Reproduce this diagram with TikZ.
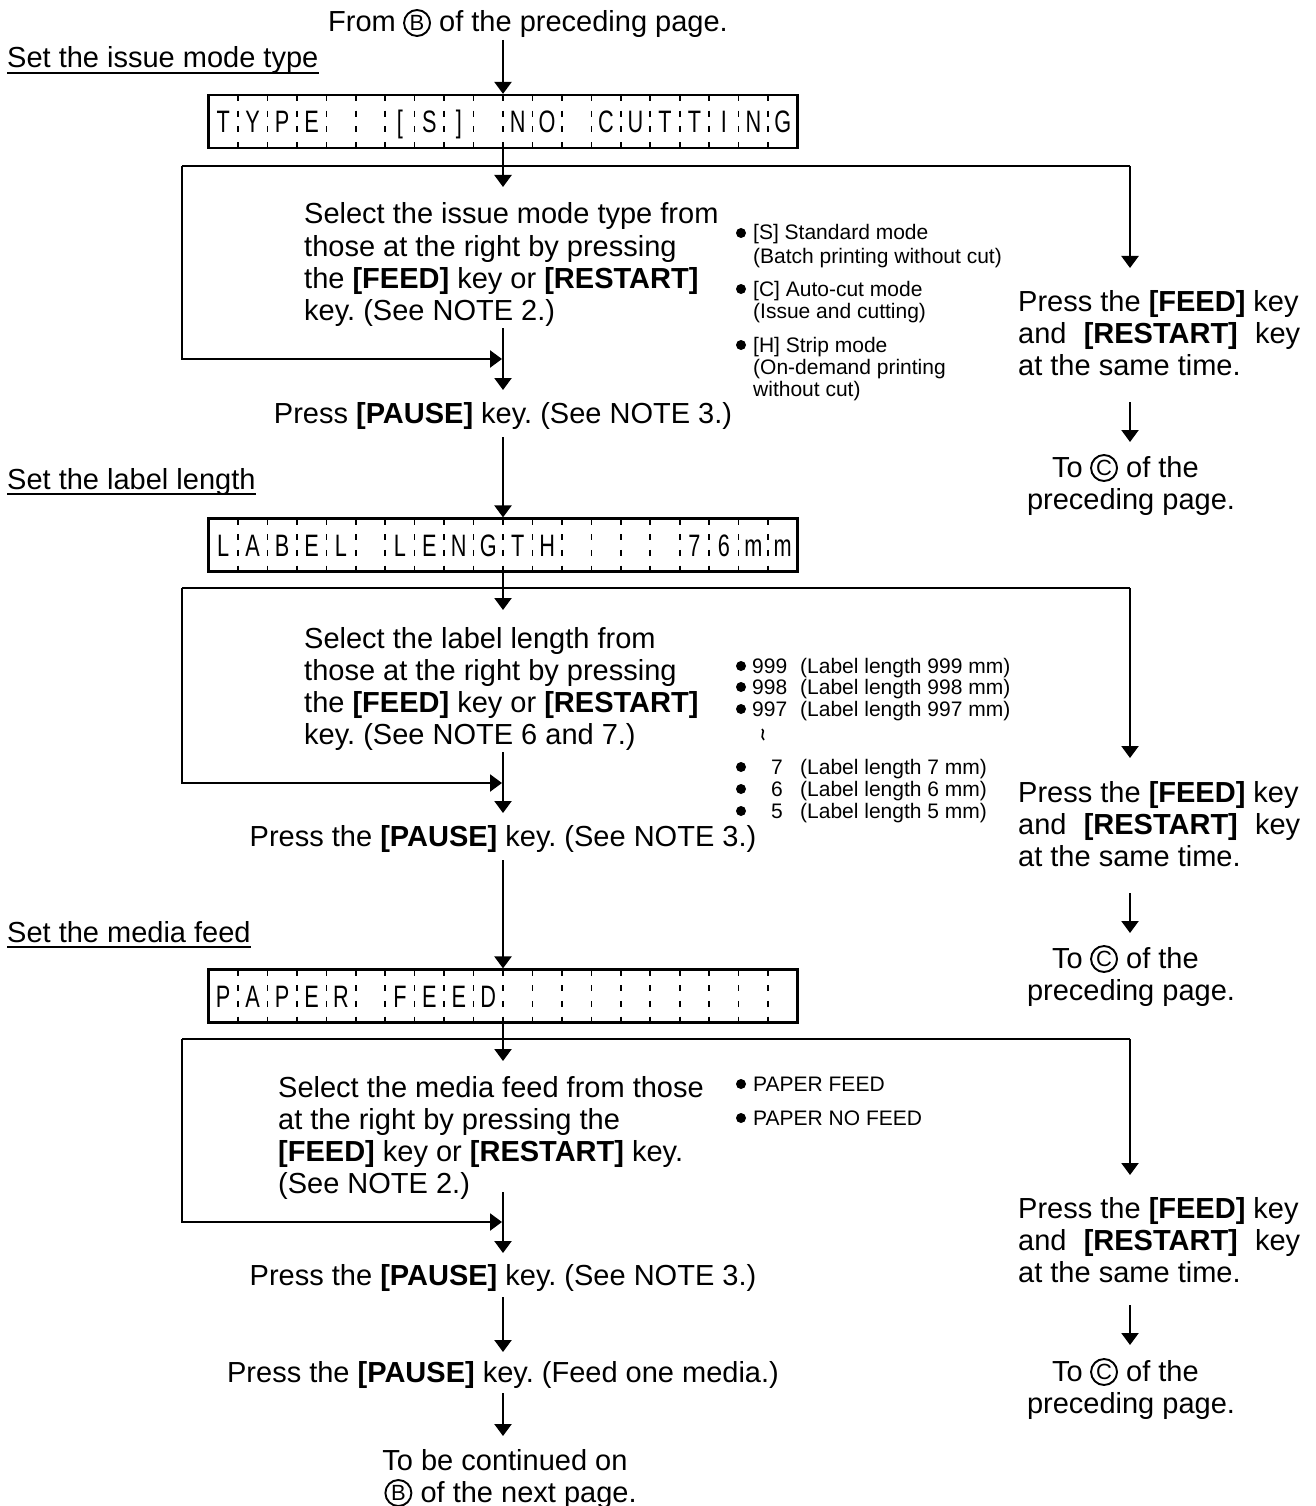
\documentclass[tikz,border=0pt]{standalone}
\usepackage{fontspec}
\setmainfont{Liberation Sans}
\newfontfamily\lcdfont[FakeStretch=0.70]{Liberation Sans}
\usetikzlibrary{arrows.meta}
\frenchspacing
% text with a circled letter: name, x, y(baseline), before, letter, after
\newcommand{\circtext}[6]{%
  \node[txt] (#1a) at (#2,#3) {#4};
  \node[circ] (#1b) at ([xshift=21pt,yshift=9pt]#1a.base east) {#5};
  \path (#1b.east |- #1a.base) ++(8,0) coordinate (#1p);
  \node[txt] (#1c) at (#1p) {#6};
}
\newcommand{\lcdrow}[3]{%
  \node[lcdbox] (#1) at (503,#2) {};
  \foreach \k in {1,...,19}
    \draw[lcdsep] ({208.5+\k*29.45},{#2-26.5}) -- ({208.5+\k*29.45},{#2+26.5});
  \foreach \c [count=\i from 0] in {#3}
    \node[lcdchar] (#1c\i) at ({208.5+(\i+0.5)*29.45},{#2+11}) {\c};
}
\begin{document}
\begin{tikzpicture}[x=1pt,y=-1pt,
  ln/.style={line width=2.3pt},
  arr/.style={line width=2.3pt,-{Triangle[width=17pt,length=12pt]}},
  txt/.style={inner sep=0pt,anchor=base west,font=\fontsize{29}{32}\selectfont},
  ctxt/.style={inner sep=0pt,anchor=base,font=\fontsize{29}{32}\selectfont},
  small/.style={inner sep=0pt,anchor=base west,font=\fontsize{21}{22}\selectfont},
  circ/.style={circle,draw,line width=1.9pt,inner sep=0pt,minimum size=26pt,font=\fontsize{22}{22}\selectfont},
  lcdbox/.style={draw,line width=2.2pt,minimum width=589pt,minimum height=53pt,inner sep=0pt},
  lcdsep/.style={line width=1.6pt,dash pattern=on 6pt off 9.67pt},
  lcdchar/.style={inner sep=0pt,anchor=base,font=\lcdfont\fontsize{31}{32}\selectfont},
  dot/.style={circle,fill,inner sep=0pt,minimum size=10pt},
  uline/.style={line width=2pt}]
\useasboundingbox (0,0) rectangle (1315,1506);

% ---------------- top
\circtext{from}{328}{32}{From}{B}{of the preceding page.}
\node[txt] (h1) at (7,68) {Set the issue mode type};
\draw[uline] ([yshift=-5pt]h1.base west) -- ([yshift=-5pt]h1.base east);
\lcdrow{box1}{121.5}{T,Y,P,E,{},{},{[},S,{]},{},N,O,{},C,U,T,T,I,N,G}
\coordinate (F0) at (503,40);
\draw[arr] (F0) -- (box1.north);

% ---------------- section 1
\coordinate (L1) at (182,166);
\coordinate (R1) at (1130,166);
\coordinate (T1) at (503,187);
\coordinate (B1) at (182,359);
\coordinate (M1) at (502,359);
\coordinate (V1a) at (503,328);
\coordinate (V1b) at (503,390);
\coordinate (RT1) at (1130,268);
\draw[ln] (L1) -- (R1);
\draw[arr] (box1.south) -- (T1);
\draw[arr] (R1) -- (RT1);
\draw[arr] (L1) -- (B1) -- (M1);
\draw[arr] (V1a) -- (V1b);

\node[txt] (s1a) at (304,224) {Select the issue mode type from};
\node[txt] (s1b) at (304,256) {those at the right by pressing};
\node[txt] (s1c) at (304,288) {the \textbf{[FEED]} key or \textbf{[RESTART]}};
\node[txt] (s1d) at (304,320) {key. (See NOTE 2.)};

\node[dot] (d1a) at (741,233) {};
\node[small] (l1a) at (753,240) {[S] Standard mode};
\node[small] (l1b) at (753,263) {(Batch printing without cut)};
\node[dot] (d1b) at (741,289) {};
\node[small] (l1c) at (753,296) {[C] Auto-cut mode};
\node[small] (l1d) at (753,318) {(Issue and cutting)};
\node[dot] (d1c) at (741,345) {};
\node[small] (l1e) at (753,352) {[H] Strip mode};
\node[small] (l1f) at (753,374) {(On-demand printing};
\node[small] (l1g) at (753,396) {without cut)};

\node[ctxt] (p1) at (503,423) {Press \textbf{[PAUSE]} key. (See NOTE 3.)};

\node[txt] (r1a) at (1018,311) {Press the \textbf{[FEED]} key};
\node[txt] (r1b) at (1018,343) {\makebox[282pt][s]{and \textbf{[RESTART]} key}};
\node[txt] (r1c) at (1018,375) {at the same time.};
\coordinate (RA1) at (1130,402);
\coordinate (RB1) at (1130,442);
\draw[arr] (RA1) -- (RB1);
\circtext{to1}{1052}{477}{To}{C}{of the}
\node[ctxt] (to1d) at (1131,509) {preceding page.};

% ---------------- section 2
\node[txt] (h2) at (7,489) {Set the label length};
\draw[uline] ([yshift=-5pt]h2.base west) -- ([yshift=-5pt]h2.base east);
\lcdrow{box2}{545}{L,A,B,E,L,{},L,E,N,G,T,H,{},{},{},{},7,6,m,m}
\coordinate (P1s) at (503,437);
\draw[arr] (P1s) -- (box2.north);

\coordinate (L2) at (182,588);
\coordinate (R2) at (1130,588);
\coordinate (T2) at (503,610);
\coordinate (B2) at (182,783);
\coordinate (M2) at (502,783);
\coordinate (V2a) at (503,752);
\coordinate (V2b) at (503,813);
\coordinate (RT2) at (1130,758);
\draw[ln] (L2) -- (R2);
\draw[arr] (box2.south) -- (T2);
\draw[arr] (R2) -- (RT2);
\draw[arr] (L2) -- (B2) -- (M2);
\draw[arr] (V2a) -- (V2b);

\node[txt] (s2a) at (304,648) {Select the label length from};
\node[txt] (s2b) at (304,680) {those at the right by pressing};
\node[txt] (s2c) at (304,712) {the \textbf{[FEED]} key or \textbf{[RESTART]}};
\node[txt] (s2d) at (304,744) {key. (See NOTE 6 and 7.)};

\node[dot] (d2a) at (741,666) {};
\node[small] (n2a) at (752,673) {999};
\node[small] (l2a) at (800,673) {(Label length 999 mm)};
\node[dot] (d2b) at (741,687) {};
\node[small] (n2b) at (752,694) {998};
\node[small] (l2b) at (800,694) {(Label length 998 mm)};
\node[dot] (d2c) at (741,709) {};
\node[small] (n2c) at (752,716) {997};
\node[small] (l2c) at (800,716) {(Label length 997 mm)};
\draw[line width=1.6pt] (762,729) .. controls (766,731) and (759,736) .. (764,740);
\node[dot] (d2d) at (741,767) {};
\node[small] (n2d) at (771,774) {7};
\node[small] (l2d) at (800,774) {(Label length 7 mm)};
\node[dot] (d2e) at (741,789) {};
\node[small] (n2e) at (771,796) {6};
\node[small] (l2e) at (800,796) {(Label length 6 mm)};
\node[dot] (d2f) at (741,811) {};
\node[small] (n2f) at (771,818) {5};
\node[small] (l2f) at (800,818) {(Label length 5 mm)};

\node[ctxt] (p2) at (503,846) {Press the \textbf{[PAUSE]} key. (See NOTE 3.)};

\node[txt] (r2a) at (1018,802) {Press the \textbf{[FEED]} key};
\node[txt] (r2b) at (1018,834) {\makebox[282pt][s]{and \textbf{[RESTART]} key}};
\node[txt] (r2c) at (1018,866) {at the same time.};
\coordinate (RA2) at (1130,893);
\coordinate (RB2) at (1130,933);
\draw[arr] (RA2) -- (RB2);
\circtext{to2}{1052}{968}{To}{C}{of the}
\node[ctxt] (to2d) at (1131,1000) {preceding page.};

% ---------------- section 3
\node[txt] (h3) at (7,942) {Set the media feed};
\draw[uline] ([yshift=-5pt]h3.base west) -- ([yshift=-5pt]h3.base east);
\lcdrow{box3}{996}{P,A,P,E,R,{},F,E,E,D,{},{},{},{},{},{},{},{},{},{}}
\coordinate (P2s) at (503,860);
\draw[arr] (P2s) -- (box3.north);

\coordinate (L3) at (182,1039);
\coordinate (R3) at (1130,1039);
\coordinate (T3) at (503,1061);
\coordinate (B3) at (182,1222);
\coordinate (M3) at (502,1222);
\coordinate (V3a) at (503,1192);
\coordinate (V3b) at (503,1253);
\coordinate (RT3) at (1130,1175);
\draw[ln] (L3) -- (R3);
\draw[arr] (box3.south) -- (T3);
\draw[arr] (R3) -- (RT3);
\draw[arr] (L3) -- (B3) -- (M3);
\draw[arr] (V3a) -- (V3b);

\node[txt] (s3a) at (278,1097) {Select the media feed from those};
\node[txt] (s3b) at (278,1129) {at the right by pressing the};
\node[txt] (s3c) at (278,1161) {\textbf{[FEED]} key or \textbf{[RESTART]} key.};
\node[txt] (s3d) at (278,1193) {(See NOTE 2.)};

\node[dot] (d3a) at (741,1084) {};
\node[small] (l3a) at (753,1091) {PAPER FEED};
\node[dot] (d3b) at (741,1118) {};
\node[small] (l3b) at (753,1125) {PAPER NO FEED};

\node[ctxt] (p3) at (503,1285) {Press the \textbf{[PAUSE]} key. (See NOTE 3.)};
\coordinate (P3s) at (503,1297);
\coordinate (P3e) at (503,1352);
\draw[arr] (P3s) -- (P3e);
\node[ctxt] (p4) at (503,1382) {Press the \textbf{[PAUSE]} key. (Feed one media.)};
\coordinate (P4s) at (503,1393);
\coordinate (P4e) at (503,1436);
\draw[arr] (P4s) -- (P4e);
\node[ctxt] (end1) at (505,1470) {To be continued on};
\circtext{end2}{376}{1502}{}{B}{of the next page.}

\node[txt] (r3a) at (1018,1218) {Press the \textbf{[FEED]} key};
\node[txt] (r3b) at (1018,1250) {\makebox[282pt][s]{and \textbf{[RESTART]} key}};
\node[txt] (r3c) at (1018,1282) {at the same time.};
\coordinate (RA3) at (1130,1305);
\coordinate (RB3) at (1130,1345);
\draw[arr] (RA3) -- (RB3);
\circtext{to3}{1052}{1381}{To}{C}{of the}
\node[ctxt] (to3d) at (1131,1413) {preceding page.};
\end{tikzpicture}
\end{document}
